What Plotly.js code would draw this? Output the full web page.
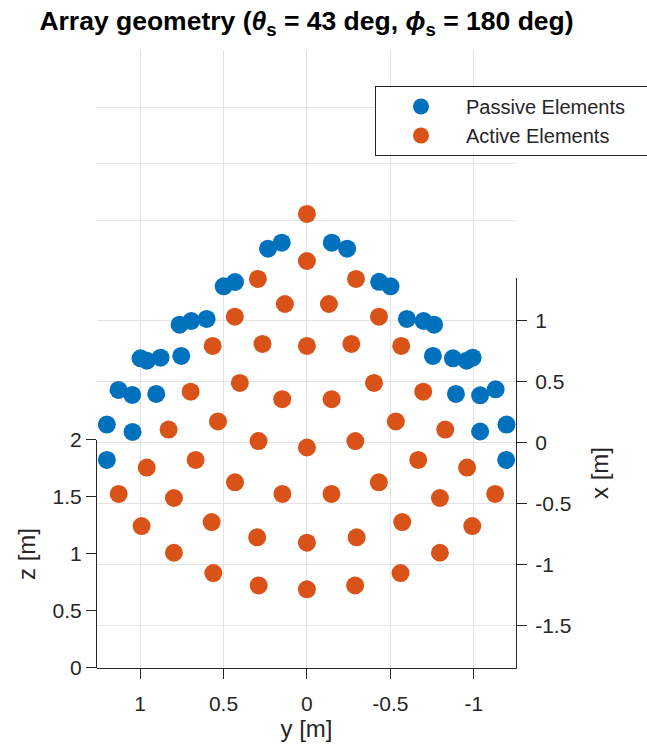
<!DOCTYPE html>
<html>
<head>
<meta charset="utf-8">
<script src="https://cdn.plot.ly/plotly-3.0.1.min.js"></script>
<style>html,body{margin:0;padding:0;background:#fff;}#chart{width:647px;height:746px;}</style>
</head>
<body>
<div id="chart"></div>
<script>
// ---- data ----
// horizontal position: y [m]; vertical position read against the right-hand x [m] axis
const passiveY = [0.151, 0.233, 0.431, 0.499, 0.601, 0.693, 0.763, 0.753, 0.877, 0.959, 0.997, 1.129, 1.047, 0.903, 1.199, 1.045, 1.199,
  -0.149, -0.241, -0.433, -0.501, -0.599, -0.699, -0.762, -0.755, -0.875, -0.957, -0.993, -1.131, -1.038, -0.893, -1.196, -1.038, -1.194];
const passiveX = [1.635, 1.586, 1.313, 1.278, 1.011, 0.994, 0.964, 0.708, 0.694, 0.669, 0.689, 0.430, 0.389, 0.397, 0.147, 0.086, -0.143,
  1.635, 1.586, 1.315, 1.278, 1.011, 0.994, 0.964, 0.708, 0.689, 0.669, 0.694, 0.435, 0.386, 0.397, 0.147, 0.090, -0.143];
const activeY = [0, 0, 0.294, -0.294, 0.132, -0.132, 0.432, -0.432, 0.266, -0.266, 0, 0.565, -0.565, 0.402, -0.402, 0.697, -0.697,
  0.148, -0.148, 0.533, -0.533, 0.829, -0.829, 0.290, -0.290, 0, 0.667, -0.667, 0.960, -0.960, 0.431, -0.431, 0.147, -0.147,
  1.128, -1.128, 0.797, -0.797, 0.571, -0.571, 0.991, -0.991, 0.298, -0.298, 0, 0.797, -0.797, 0.561, -0.561, 0.289, -0.289, 0];
const activeX = [1.870, 1.485, 1.338, 1.338, 1.133, 1.133, 1.029, 1.029, 0.806, 0.806, 0.790, 0.790, 0.790, 0.487, 0.487, 0.416, 0.416,
  0.354, 0.354, 0.172, 0.172, 0.106, 0.106, 0.012, 0.012, -0.041, -0.143, -0.143, -0.205, -0.205, -0.326, -0.326, -0.421, -0.421,
  -0.421, -0.421, -0.454, -0.454, -0.651, -0.651, -0.684, -0.684, -0.776, -0.776, -0.820, -0.902, -0.902, -1.068, -1.068, -1.169, -1.169, -1.201];
const seriesNames = ['Passive Elements', 'Active Elements'];
const yTicks = [1, 0.5, 0, -0.5, -1];
const xTicks = [1, 0.5, 0, -0.5, -1, -1.5];
const zTicks = [0, 0.5, 1, 1.5, 2];

// ---- layout geometry ----
const yRange = [1.258, -1.253];      // horizontal axis (y [m], reversed)
const xRange = [-1.845, 1.346];      // floor axis (x [m]) on right
const zRange = [0, 2];
const floorTop = 0.6311;             // fraction of plot height taken by floor
const zDomTop = 0.369;
const mainRange = [xRange[0], xRange[0] + (xRange[1] - xRange[0]) / floorTop];

const FONT = 'Liberation Sans, Arial, Helvetica, sans-serif';
const AX = '#262626';
const GRID = '#e3e3e3';
const PAD = '&nbsp;&nbsp;&nbsp;&nbsp;&nbsp;';   // legend box runs past the right edge, as in the reference

const blue = '#0072BD', orange = '#D95319';

const traces = [
  {x: [], y: [], xaxis: 'x', yaxis: 'y', showlegend: false, hoverinfo: 'skip', type: 'scatter', mode: 'markers'},
  {x: [], y: [], xaxis: 'x', yaxis: 'y2', showlegend: false, hoverinfo: 'skip', type: 'scatter', mode: 'markers'},
  {x: [], y: [], xaxis: 'x', yaxis: 'y3', showlegend: false, hoverinfo: 'skip', type: 'scatter', mode: 'markers'},
  {x: passiveY, y: passiveX, xaxis: 'x', yaxis: 'y4', type: 'scatter', mode: 'markers', name: seriesNames[0] + PAD,
   marker: {color: blue, size: 18, line: {width: 0}}},
  {x: activeY, y: activeX, xaxis: 'x', yaxis: 'y4', type: 'scatter', mode: 'markers', name: seriesNames[1],
   marker: {color: orange, size: 18, line: {width: 0}}}
];

const layout = {
  width: 647, height: 746,
  margin: {l: 97, r: 131, t: 50, b: 78, autoexpand: false},
  paper_bgcolor: '#ffffff', plot_bgcolor: 'rgba(0,0,0,0)',
  font: {family: FONT, color: AX, size: 21},
  title: {text: '<b>Array geometry (<i>θ</i><sub>s</sub> = 43 deg, <i>ϕ</i><sub>s</sub> = 180 deg)</b>',
          font: {family: FONT, size: 26.5, color: '#000'}, x: 0.5, xref: 'paper', xanchor: 'center', y: 0.972, yref: 'container', yanchor: 'middle'},
  showlegend: true,
  legend: {x: 0.6635, y: 0.9417, xanchor: 'left', yanchor: 'top', bgcolor: '#fff', bordercolor: AX, borderwidth: 1,
           font: {family: FONT, size: 20, color: AX}, itemwidth: 80, tracegroupgap: 0},
  xaxis: {domain: [0, 1], range: yRange, anchor: 'y', tickvals: yTicks, ticktext: yTicks.map(String), ticks: 'outside', ticklen: 10,
          tickcolor: AX, showline: true, linecolor: AX, linewidth: 1, showgrid: true, gridcolor: GRID, zeroline: false,
          ticklabelstandoff: 7,
          tickfont: {size: 21, color: AX}, title: {text: 'y [m]', font: {size: 24, color: AX}, standoff: 4}},
  yaxis: {domain: [0, floorTop], range: xRange, anchor: 'x', side: 'right', tickvals: xTicks,
          ticktext: xTicks.map(v => v < 0 ? '-' + Math.abs(v) : String(v)), ticks: 'outside', ticklen: 10,
          tickcolor: AX, showline: true, linecolor: AX, linewidth: 1, showgrid: true, gridcolor: GRID, zeroline: false,
          ticklabelstandoff: 4,
          tickfont: {size: 21, color: AX}, title: {text: 'x [m]', font: {size: 24, color: AX}, standoff: 20}},
  yaxis2: {domain: [floorTop, 1], range: zRange, anchor: 'x', tickvals: zTicks, showticklabels: false, ticks: '',
           showline: false, showgrid: true, gridcolor: GRID, zeroline: false},
  yaxis3: {domain: [0, zDomTop], range: zRange, anchor: 'x', side: 'left', tickvals: zTicks, ticktext: zTicks.map(String),
           ticks: 'outside', ticklen: 10, tickcolor: AX, showline: true, linecolor: AX, linewidth: 1, showgrid: false, zeroline: false,
           tickfont: {size: 21, color: AX}, title: {text: 'z [m]', font: {size: 24, color: AX}, standoff: 10}},
  yaxis4: {domain: [0, 1], range: mainRange, anchor: 'x', visible: false, showgrid: false, zeroline: false}
};

Plotly.newPlot('chart', traces, layout, {staticPlot: true, displayModeBar: false});
</script>
</body>
</html>
